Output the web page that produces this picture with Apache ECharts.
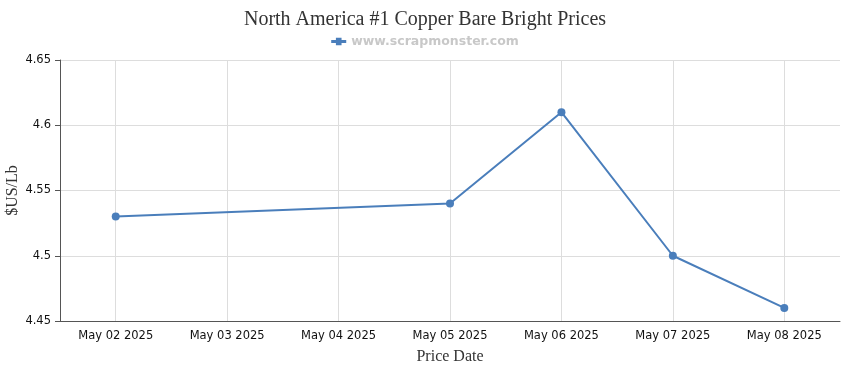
<!DOCTYPE html>
<html><head><meta charset="utf-8">
<script src="https://cdn.jsdelivr.net/npm/echarts@6/dist/echarts.min.js"></script>
<style>html,body{margin:0;padding:0;background:#fff}#c{width:850px;height:370px}</style>
</head><body><div id="c"></div>
<script>
const categories = ['May 02 2025','May 03 2025','May 04 2025','May 05 2025','May 06 2025','May 07 2025','May 08 2025'];
const prices = [4.53, null, null, 4.54, 4.61, 4.50, 4.46];
const seriesName = 'www.scrapmonster.com';
const yTicks = {min: 4.45, max: 4.65, interval: 0.05};

const chart = echarts.init(document.getElementById('c'), null, {renderer: 'canvas'});
chart.setOption({
  animation: false,
  title: {
    text: 'North America #1 Copper Bare Bright Prices',
    left: 'center', top: 5,
    textStyle: {fontFamily: 'Liberation Serif', fontWeight: 'normal', fontSize: 20, color: '#333'}
  },
  legend: {
    top: 30, left: 'center',
    data: [{name: seriesName, icon: 'path://M0,2.5H5V0H11V2.5H16V5.5H11V8H5V5.5H0Z'}],
    itemWidth: 15, itemHeight: 8, itemGap: 5,
    textStyle: {fontFamily: 'DejaVu Sans', fontWeight: 'bold', fontSize: 12.5, color: '#c8c8c8'}
  },
  grid: {left: 60, right: 10, top: 60, bottom: 49, containLabel: false, outerBoundsMode: 'none'},
  xAxis: {
    type: 'category', data: categories, boundaryGap: true,
    name: 'Price Date', nameLocation: 'middle', nameGap: 28, nameMoveOverlap: false,
    nameTextStyle: {fontFamily: 'Liberation Serif', fontSize: 16, color: '#333'},
    axisLine: {lineStyle: {color: '#555', width: 1}},
    axisTick: {alignWithLabel: true, length: 5, lineStyle: {color: '#555'}},
    axisLabel: {fontFamily: 'DejaVu Sans', fontSize: 11.5, color: '#111', margin: 9, interval: 0},
    splitLine: {show: true, alignWithLabel: true, lineStyle: {color: '#ddd'}}
  },
  yAxis: {
    type: 'value', min: yTicks.min, max: yTicks.max, interval: yTicks.interval,
    name: '$US/Lb', nameLocation: 'middle', nameGap: 39, nameRotate: 90, nameMoveOverlap: false,
    nameTextStyle: {fontFamily: 'Liberation Serif', fontSize: 16, color: '#333'},
    axisLine: {show: true, lineStyle: {color: '#555'}},
    axisTick: {show: true, length: 5, lineStyle: {color: '#555'}},
    axisLabel: {fontFamily: 'DejaVu Sans', fontSize: 11.5, color: '#111', margin: 9,
      formatter: v => String(parseFloat(v.toFixed(2)))},
    splitLine: {show: true, lineStyle: {color: '#ddd'}}
  },
  series: [{
    name: seriesName, type: 'line', data: prices, connectNulls: true,
    symbol: 'circle', symbolSize: 8,
    lineStyle: {color: '#4a7ebb', width: 2},
    itemStyle: {color: '#4a7ebb'}
  }]
});
</script></body></html>
